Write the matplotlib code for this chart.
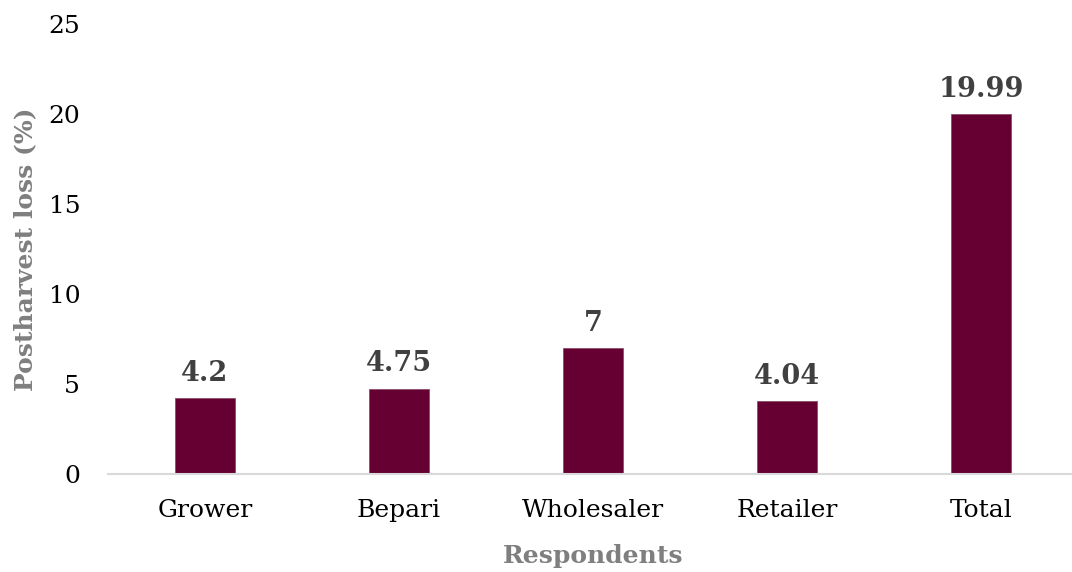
import matplotlib

matplotlib.use("Agg")
import matplotlib.pyplot as plt

respondents = ["Grower", "Bepari", "Wholesaler", "Retailer", "Total"]
loss_pct = [4.2, 4.75, 7, 4.04, 19.99]
loss_labels = ["4.2", "4.75", "7", "4.04", "19.99"]
y_ticks = [0, 5, 10, 15, 20, 25]

BAR_COLOR = "#660033"
LABEL_COLOR = "#404040"
TITLE_COLOR = "#7f7f7f"

plt.rcParams["font.family"] = ["DejaVu Serif"]

fig = plt.figure(figsize=(10.72, 5.72), dpi=100)
# plot area runs slightly past the right edge so the category slots stay even
ax = fig.add_axes([0.1007, 0.1713, 0.9049, 0.7867])

x = list(range(len(respondents)))
bars = ax.bar(x, loss_pct, width=0.31, color=BAR_COLOR, edgecolor="#8a4d6a", linewidth=0.6)

for bar, lab in zip(bars, loss_labels):
    ax.annotate(
        lab,
        (bar.get_x() + bar.get_width() / 2, bar.get_height()),
        xytext=(0, 8),
        textcoords="offset points",
        ha="center",
        va="bottom",
        fontsize=19.5,
        fontweight="bold",
        color=LABEL_COLOR,
    )

ax.set_xlim(-0.5, len(respondents) - 0.5)
ax.set_ylim(0, 25)
ax.set_yticks(y_ticks)
ax.set_xticks(x)
ax.set_xticklabels(respondents)
ax.tick_params(axis="both", length=0, labelsize=18, colors="black")
ax.tick_params(axis="x", pad=18)
ax.tick_params(axis="y", pad=20)

for side in ["top", "right", "left"]:
    ax.spines[side].set_visible(False)
ax.spines["bottom"].set_color("#d9d9d9")
ax.spines["bottom"].set_linewidth(1.5)

ax.set_xlabel("Respondents", fontsize=18, fontweight="bold", color=TITLE_COLOR, labelpad=16)
ax.set_ylabel("Postharvest loss (%)", fontsize=18, fontweight="bold", color=TITLE_COLOR, labelpad=8)

fig.savefig("out.png", dpi=100)
